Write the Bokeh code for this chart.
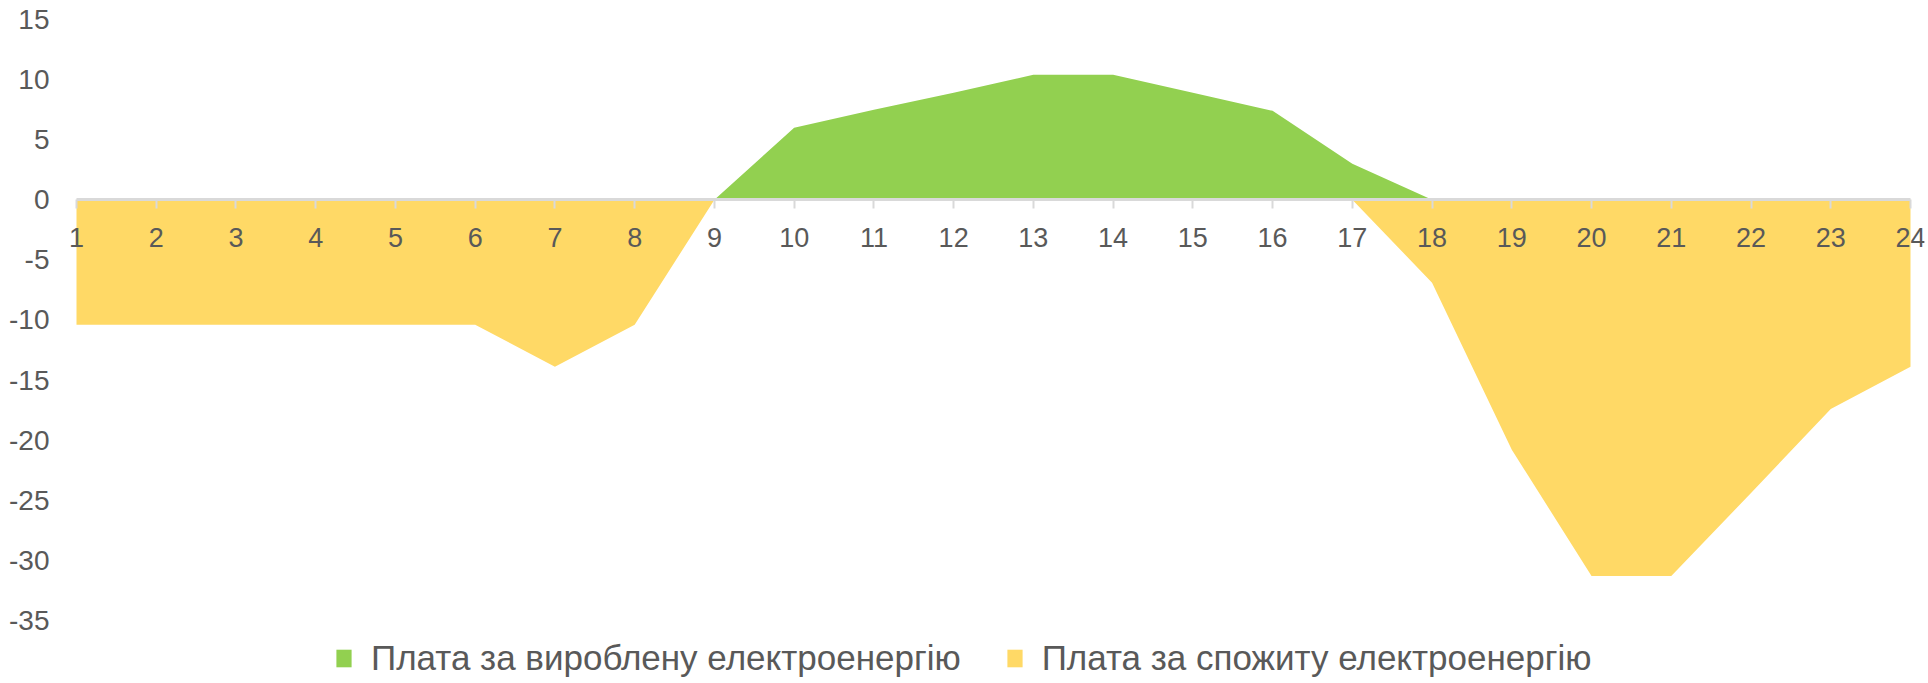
from bokeh.plotting import figure
from bokeh.models import FixedTicker, Range1d, Legend, LegendItem
from bokeh.embed import file_html
from bokeh.resources import INLINE

hours = [1, 2, 3, 4, 5, 6, 7, 8, 9, 10, 11, 12, 13, 14, 15, 16, 17, 18, 19, 20, 21, 22, 23, 24]
produced = [0, 0, 0, 0, 0, 0, 0, 0, 0, 6.0, 7.5, 8.9, 10.4, 10.4, 8.9, 7.4, 3.0, 0, 0, 0, 0, 0, 0, 0]
consumed = [-10.4, -10.4, -10.4, -10.4, -10.4, -10.4, -13.9, -10.4, 0, 0, 0, 0, 0, 0, 0, 0, 0,
            -6.9, -20.8, -31.3, -31.3, -24.4, -17.4, -13.9]
y_ticks = [-35, -30, -25, -20, -15, -10, -5, 0, 5, 10, 15]
series_names = ["Плата за вироблену електроенергію", "Плата за спожиту електроенергію"]
colors = ["#92d050", "#ffd966"]
text_color = "#595959"

# frame runs a little past hours 1 and 24 so the edge tick labels are not cut,
# and down to the page bottom so the legend sits inside it below the -35 tick
p = figure(frame_width=1858, frame_height=664,
           x_range=Range1d(0.8746, 24.1756), y_range=Range1d(-40.25, 15),
           x_axis_location="above",
           output_backend="svg", toolbar_location=None,
           min_border_left=66, min_border_right=4, min_border_top=19, min_border_bottom=0)
p.outline_line_color = None
p.xgrid.grid_line_color = None
p.ygrid.grid_line_color = None

r_prod = p.varea(x=hours, y1=0, y2=produced, fill_color=colors[0])
r_cons = p.varea(x=hours, y1=0, y2=consumed, fill_color=colors[1])

# x axis drawn along the zero line, labels pushed below it
xa = p.xaxis[0]
xa.fixed_location = 0
xa.bounds = (hours[0], hours[-1])
xa.ticker = FixedTicker(ticks=hours)
xa.axis_line_color = "#d9d9d9"
xa.axis_line_width = 3
xa.major_tick_line_color = "#d9d9d9"
xa.major_tick_line_width = 2
xa.major_tick_out = 0
xa.major_tick_in = 9
xa.minor_tick_out = 0
xa.minor_tick_in = 0
xa.minor_tick_line_color = None
xa.major_label_text_font = "Liberation Sans"
xa.major_label_text_font_size = "27px"
xa.major_label_text_color = text_color
xa.major_label_standoff = -47

ya = p.yaxis[0]
ya.ticker = FixedTicker(ticks=y_ticks)
ya.major_label_overrides = {t: str(t) for t in y_ticks}
ya.axis_line_color = None
ya.major_tick_line_color = None
ya.minor_tick_line_color = None
ya.major_tick_out = 0
ya.major_tick_in = 0
ya.minor_tick_out = 0
ya.major_label_text_font = "Liberation Sans"
ya.major_label_text_font_size = "28px"
ya.major_label_text_color = text_color
ya.major_label_standoff = 17

legend = Legend(items=[LegendItem(label=series_names[0], renderers=[r_prod]),
                       LegendItem(label=series_names[1], renderers=[r_cons])],
                orientation="horizontal", location=(268, 5),
                border_line_color=None, background_fill_alpha=0,
                padding=0, margin=0, spacing=44, label_standoff=18,
                glyph_width=19, glyph_height=22,
                label_text_font="Liberation Sans", label_text_font_size="35px",
                label_text_color=text_color)
p.add_layout(legend, "center")

open("out.html", "w").write(file_html(p, INLINE))
